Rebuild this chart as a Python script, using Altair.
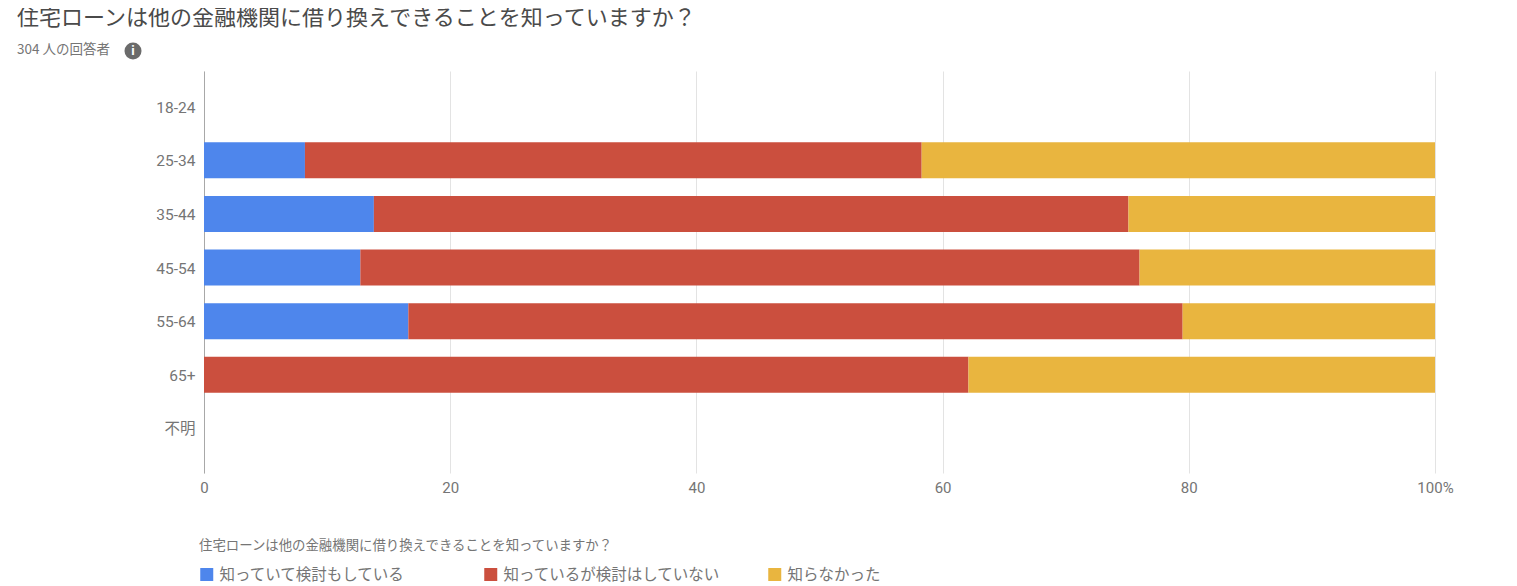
import altair as alt
import pandas as pd

TITLE = "住宅ローンは他の金融機関に借り換えできることを知っていますか？"
SUBTITLE = "304 人の回答者"
AGES = ["18-24", "25-34", "35-44", "45-54", "55-64", "65+", "不明"]
SERIES = ["知っていて検討もしている", "知っているが検討はしていない", "知らなかった"]
COLORS = ["#4e86ec", "#cb4f3e", "#e9b53f"]

AGE_ROWS = ["25-34", "35-44", "45-54", "55-64", "65+"]
KNOW_CONSIDER = [8.2, 13.8, 12.7, 16.6, 0.0]
KNOW_NOT = [50.1, 61.3, 63.3, 62.9, 62.1]
DID_NOT_KNOW = [41.7, 24.9, 24.0, 20.5, 37.9]
X_TICKS = [0, 20, 40, 60, 80, 100]

rows = []
for idx, vals in enumerate([KNOW_CONSIDER, KNOW_NOT, DID_NOT_KNOW]):
    for age, v in zip(AGE_ROWS, vals):
        rows.append({"age": age, "series": SERIES[idx], "value": v, "order": idx})
df = pd.DataFrame(rows)

FONT = "Roboto, 'Noto Sans CJK JP', sans-serif"
CJK = "'Noto Sans CJK JP', sans-serif"
GREY = "#757575"

bars = alt.Chart(df).mark_bar().encode(
    x=alt.X(
        "value:Q",
        stack="zero",
        scale=alt.Scale(domain=[0, 100], nice=False),
        axis=alt.Axis(
            values=X_TICKS,
            title=None,
            labelExpr="datum.value == 100 ? '100%' : datum.value",
            grid=True,
            gridColor="#e3e3e3",
            domain=False,
            ticks=False,
            labelFont=FONT,
            labelFontSize=15,
            labelColor=GREY,
            labelPadding=7,
            labelFlush=False,
            labelBound=False,
        ),
    ),
    y=alt.Y(
        "age:N",
        sort=AGES,
        scale=alt.Scale(domain=AGES, paddingInner=0.328, paddingOuter=0.414, align=0.4),
        axis=alt.Axis(
            title=None,
            grid=False,
            ticks=False,
            domain=True,
            domainColor="#a8a8a8",
            labelFont=FONT,
            labelFontSize=15.5,
            labelColor=GREY,
            labelPadding=9,
            labelOffset=1,
        ),
    ),
    color=alt.Color(
        "series:N",
        scale=alt.Scale(domain=SERIES, range=COLORS),
        sort=SERIES,
        legend=alt.Legend(
            title=TITLE,
            titleFont=CJK,
            titleFontSize=13.4,
            titleFontWeight="normal",
            titleColor=GREY,
            titleLimit=600,
            titlePadding=14,
            orient="none",
            legendX=-5,
            legendY=468,
            direction="horizontal",
            columns=3,
            gridAlign="all",
            columnPadding=46,
            symbolType="square",
            symbolSize=169,
            symbolStrokeWidth=0,
            labelFont=CJK,
            labelFontSize=15.5,
            labelColor=GREY,
            labelLimit=400,
            labelOffset=5,
            padding=0,
        ),
    ),
    order=alt.Order("order:Q"),
)

icon_data = alt.Chart(pd.DataFrame({"icon": ["i"]}))
icon_dot = icon_data.mark_circle(color="#6b6b6b", opacity=1, size=290).encode(
    x=alt.value(-71), y=alt.value(-20)
)
icon_i = icon_data.mark_text(
    color="white", font="Roboto", fontSize=13, fontWeight="bold"
).encode(x=alt.value(-71), y=alt.value(-20), text="icon:N")

chart = (
    alt.layer(bars, icon_dot, icon_i)
    .properties(
        width=1231,
        height=402,
        autosize=alt.AutoSizeParams(type="none"),
        padding={"left": 196, "top": 63, "right": 70, "bottom": 111},
        title=alt.TitleParams(
            text=TITLE,
            subtitle=SUBTITLE,
            anchor="start",
            frame="group",
            font=CJK,
            fontSize=22,
            fontWeight="normal",
            color="#4a4a4a",
            subtitleFont=CJK,
            subtitleFontSize=13.5,
            subtitleColor=GREY,
            subtitlePadding=12.5,
            dx=-187,
            offset=-15,
        ),
    )
    .configure_view(stroke=None)
    .configure_axis(labelOverlap=False)
)

chart.save("out.html", embed_options={"renderer": "svg", "actions": False})
